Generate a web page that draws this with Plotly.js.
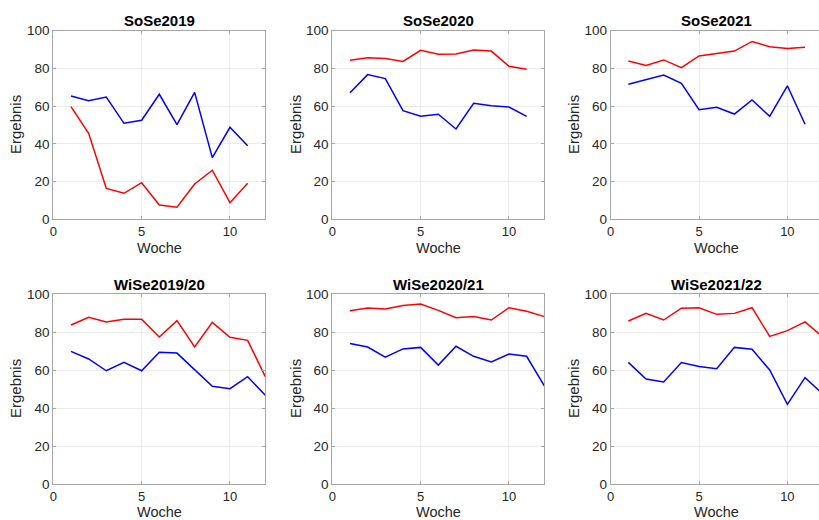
<!DOCTYPE html>
<html>
<head>
<meta charset="utf-8">
<script src="https://cdn.plot.ly/plotly-3.0.1.min.js"></script>
<style>html,body{margin:0;padding:0;background:#fff;}</style>
</head>
<body>
<div id="chart" style="width:819px;height:520px;"></div>
<script>
// ---- data ----
const panelTitles = ["SoSe2019", "SoSe2020", "SoSe2021", "WiSe2019/20", "WiSe2020/21", "WiSe2021/22"];
const weeksSoSe = [1, 2, 3, 4, 5, 6, 7, 8, 9, 10, 11];
const weeksWiSe = [1, 2, 3, 4, 5, 6, 7, 8, 9, 10, 11, 12];
const xTickVals = [0, 5, 10];
const yTickVals = [0, 20, 40, 60, 80, 100];
const xLabel = "Woche";
const yLabel = "Ergebnis";

const redSoSe2019  = [59.7, 45.6, 16.4, 13.8, 19.4, 7.6, 6.4, 18.7, 26.0, 8.8, 19.1];
const blueSoSe2019 = [65.4, 62.9, 64.8, 50.9, 52.5, 66.3, 50.2, 67.3, 32.7, 48.8, 39.0];

const redSoSe2020  = [84.3, 85.7, 85.3, 83.7, 89.6, 87.5, 87.6, 89.8, 89.2, 81.1, 79.5];
const blueSoSe2020 = [67.1, 76.7, 74.6, 57.6, 54.6, 55.7, 47.9, 61.5, 60.2, 59.5, 54.6];

const redSoSe2021  = [83.9, 81.6, 84.5, 80.4, 86.6, 88.0, 89.2, 94.3, 91.5, 90.5, 91.2];
const blueSoSe2021 = [71.6, 73.9, 76.5, 72.1, 58.1, 59.4, 55.8, 63.3, 54.6, 70.8, 50.4];

const redWiSe2019  = [83.7, 87.7, 85.3, 86.7, 86.7, 77.4, 86.0, 72.1, 85.1, 77.2, 75.6, 56.5];
const blueWiSe2019 = [69.8, 65.8, 59.6, 64.0, 59.6, 69.3, 68.9, 60.0, 51.4, 50.2, 56.5, 46.7];

const redWiSe2020  = [91.2, 92.6, 92.1, 93.9, 94.7, 91.4, 87.5, 88.1, 86.3, 92.8, 90.9, 88.1];
const blueWiSe2020 = [73.9, 72.1, 66.8, 71.1, 71.9, 62.6, 72.5, 67.2, 64.2, 68.4, 67.2, 51.6];

const redWiSe2021  = [85.8, 89.8, 86.3, 92.5, 92.8, 89.3, 89.8, 92.8, 77.7, 80.7, 85.3, 77.4];
const blueWiSe2021 = [64.0, 55.3, 53.7, 63.9, 61.8, 60.7, 71.9, 70.9, 60.0, 41.9, 56.0, 47.4];

// ---- layout geometry (pixels in an 819x520 canvas) ----
const W = 819, H = 520;
const colPx = [[53.3, 265.3], [332.3, 544.3], [610.7, 822.7]];
const rowPx = [[30.7, 219.3], [294, 484]];
const titlePx = [20.7, 284];
const xlabPx = [248, 512];
const ylabX = [15, 295, 573];

const panels = [
  {x: weeksSoSe, red: redSoSe2019, blue: blueSoSe2019},
  {x: weeksSoSe, red: redSoSe2020, blue: blueSoSe2020},
  {x: weeksSoSe, red: redSoSe2021, blue: blueSoSe2021},
  {x: weeksWiSe, red: redWiSe2019, blue: blueWiSe2019},
  {x: weeksWiSe, red: redWiSe2020, blue: blueWiSe2020},
  {x: weeksWiSe, red: redWiSe2021, blue: blueWiSe2021}
];

const FONT = "Liberation Sans, Arial, Helvetica, sans-serif";
const TXT = "#262626";
const AXC = "#a6a6a6";
const GRID = "#ececec";

const traces = [];
const layout = {
  width: W, height: H,
  margin: {l: 0, r: 0, t: 0, b: 0},
  paper_bgcolor: "#fff", plot_bgcolor: "#fff",
  showlegend: false,
  font: {family: FONT, color: TXT, size: 13.5},
  annotations: []
};

panels.forEach((p, i) => {
  const r = Math.floor(i / 3), c = i % 3;
  const n = i + 1;
  const xa = "xaxis" + (n === 1 ? "" : n), ya = "yaxis" + (n === 1 ? "" : n);
  const xr = "x" + (n === 1 ? "" : n), yr = "y" + (n === 1 ? "" : n);

  let x0 = colPx[c][0], x1 = colPx[c][1];
  const pxPerUnit = (x1 - x0) / 12;
  let xmax = 12;
  let rightCut = false;
  if (x1 > W) { xmax = (W - x0) / pxPerUnit; x1 = W; rightCut = true; }

  traces.push({x: p.x, y: p.red, xaxis: xr, yaxis: yr, type: "scatter", mode: "lines",
               line: {color: "#ff0000", width: 1.5}, hoverinfo: "skip"});
  traces.push({x: p.x, y: p.blue, xaxis: xr, yaxis: yr, type: "scatter", mode: "lines",
               line: {color: "#0000ff", width: 1.5}, hoverinfo: "skip"});

  layout[xa] = {
    domain: [x0 / W, x1 / W], anchor: yr, range: [0, xmax],
    tickmode: "array", tickvals: xTickVals,
    showgrid: true, gridcolor: GRID, gridwidth: 1, zeroline: false,
    showline: true, linecolor: AXC, linewidth: 1, mirror: "ticks",
    ticks: "inside", ticklen: 3, tickcolor: AXC,
    tickfont: {family: FONT, size: 13, color: TXT}, fixedrange: true
  };
  layout[ya] = {
    domain: [1 - rowPx[r][1] / H, 1 - rowPx[r][0] / H], anchor: xr, range: [0, 100],
    tickmode: "array", tickvals: yTickVals,
    showgrid: true, gridcolor: GRID, gridwidth: 1, zeroline: false,
    showline: true, linecolor: AXC, linewidth: 1, mirror: rightCut ? false : "ticks",
    ticks: "inside", ticklen: 3, tickcolor: AXC,
    tickfont: {family: FONT, size: 13.5, color: TXT}, fixedrange: true
  };

  const cx = (colPx[c][0] + colPx[c][1]) / 2 / W;
  layout.annotations.push({text: "<b>" + panelTitles[i] + "</b>", xref: "paper", yref: "paper",
    x: cx, y: 1 - titlePx[r] / H, xanchor: "center", yanchor: "middle", showarrow: false,
    font: {family: FONT, size: 15, color: "#000"}});
  layout.annotations.push({text: xLabel, xref: "paper", yref: "paper",
    x: cx, y: 1 - xlabPx[r] / H, xanchor: "center", yanchor: "middle", showarrow: false,
    font: {family: FONT, size: 14.5, color: TXT}});
  layout.annotations.push({text: yLabel, xref: "paper", yref: "paper", textangle: -90,
    x: ylabX[c] / W, y: 1 - (rowPx[r][0] + rowPx[r][1]) / 2 / H, xanchor: "center", yanchor: "middle",
    showarrow: false, font: {family: FONT, size: 15, color: TXT}});
});

Plotly.newPlot("chart", traces, layout, {displayModeBar: false, staticPlot: true});
</script>
</body>
</html>
